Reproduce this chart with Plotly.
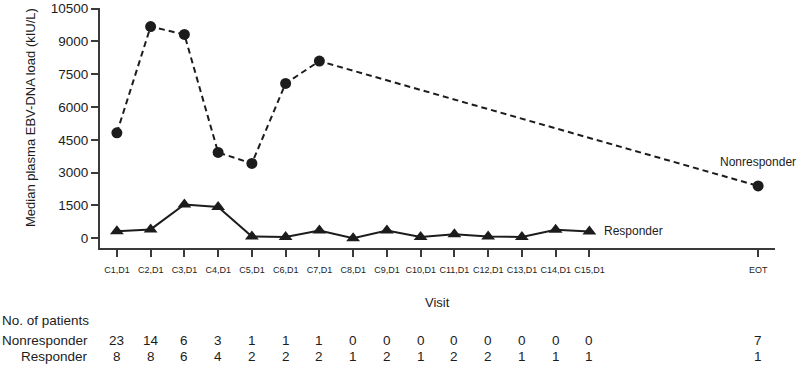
import plotly.graph_objects as go

# ---- data ----
visits = ["C1,D1", "C2,D1", "C3,D1", "C4,D1", "C5,D1", "C6,D1", "C7,D1", "C8,D1",
          "C9,D1", "C10,D1", "C11,D1", "C12,D1", "C13,D1", "C14,D1", "C15,D1", "EOT"]
visit_pos = [0, 1, 2, 3, 4, 5, 6, 7, 8, 9, 10, 11, 12, 13, 14, 19]

nonresponder = [4820, 9680, 9320, 3920, 3420, 7080, 8100,
                None, None, None, None, None, None, None, None, 2390]
responder = [320, 400, 1540, 1430, 80, 50, 350, 0, 350, 50, 180, 80, 50, 380, 310, None]

n_nonresponder = [23, 14, 6, 3, 1, 1, 1, 0, 0, 0, 0, 0, 0, 0, 0, 7]
n_responder = [8, 8, 6, 4, 2, 2, 2, 1, 2, 1, 2, 2, 1, 1, 1, 1]

y_ticks = [0, 1500, 3000, 4500, 6000, 7500, 9000, 10500]

FONT = "Liberation Sans, Arial, Helvetica, sans-serif"
INK = "#1c1c1c"
AX = "#3a3a3a"

fig = go.Figure()

fig.add_trace(go.Scatter(
    x=visit_pos, y=nonresponder, mode="lines+markers", connectgaps=True,
    line=dict(color=INK, width=2, dash="6px,4px"),
    marker=dict(symbol="circle", size=11, color=INK),
    name="Nonresponder", showlegend=False))

fig.add_trace(go.Scatter(
    x=visit_pos, y=responder, mode="lines+markers",
    line=dict(color=INK, width=2),
    marker=dict(symbol="triangle-up", size=12, color=INK),
    name="Responder", showlegend=False))

# plot area in pixels: x 100..775, y 8..248
L, R, T, B = 100, 25, 8, 118
W, H = 800 - L - R, 366 - T - B


def py(p):
    return (248 - p) / H


def px(p):
    return (p - L) / W


ann = []
# series labels
ann.append(dict(x=visit_pos[-1], y=nonresponder[-1], xref="x", yref="y",
                text="Nonresponder", showarrow=False, xanchor="center",
                yanchor="middle", yshift=24, font=dict(size=12, color=INK, family=FONT)))
ann.append(dict(x=visit_pos[14], y=responder[14], xref="x", yref="y",
                text="Responder", showarrow=False, xanchor="left",
                yanchor="middle", xshift=13, font=dict(size=12, color=INK, family=FONT)))
# y title
ann.append(dict(x=px(30), y=py(118), xref="paper", yref="paper",
                text="Median plasma EBV-DNA load (kIU/L)", textangle=-90,
                showarrow=False, xanchor="center", yanchor="middle",
                font=dict(size=13, color=INK, family=FONT)))
# x title
ann.append(dict(x=0.5, y=py(302), xref="paper", yref="paper", text="Visit",
                showarrow=False, xanchor="center", yanchor="middle",
                font=dict(size=13, color=INK, family=FONT)))
# table
ann.append(dict(x=px(0), y=py(320), xref="paper", yref="paper", text="No. of patients",
                showarrow=False, xanchor="left", yanchor="middle",
                font=dict(size=13.5, color=INK, family=FONT)))
ann.append(dict(x=px(90), y=py(340), xref="paper", yref="paper", text="Nonresponder",
                showarrow=False, xanchor="right", yanchor="middle",
                font=dict(size=13.5, color=INK, family=FONT)))
ann.append(dict(x=px(90), y=py(356), xref="paper", yref="paper", text="Responder",
                showarrow=False, xanchor="right", yanchor="middle",
                font=dict(size=13.5, color=INK, family=FONT)))
for xp, a, b in zip(visit_pos, n_nonresponder, n_responder):
    ann.append(dict(x=xp, y=py(340), xref="x", yref="paper", text=str(a),
                    showarrow=False, xanchor="center", yanchor="middle",
                    font=dict(size=13.5, color=INK, family=FONT)))
    ann.append(dict(x=xp, y=py(356), xref="x", yref="paper", text=str(b),
                    showarrow=False, xanchor="center", yanchor="middle",
                    font=dict(size=13.5, color=INK, family=FONT)))

fig.update_layout(
    width=800, height=366,
    margin=dict(l=L, r=R, t=T, b=B, autoexpand=False),
    paper_bgcolor="white", plot_bgcolor="white",
    annotations=ann,
    xaxis=dict(range=[-0.5, 19.5], tickvals=visit_pos, ticktext=visits,
               tickangle=0, automargin=False, ticklabelstandoff=5,
               showgrid=False, zeroline=False, showline=True, linecolor=AX,
               linewidth=2, ticks="outside", ticklen=7, tickwidth=1.5, tickcolor=AX,
               tickfont=dict(size=9, color=INK, family=FONT)),
    yaxis=dict(range=[-450, 10530], tickvals=y_ticks, tickformat="d", automargin=False,
               showgrid=False, zeroline=False, showline=True, linecolor=AX,
               linewidth=2, ticks="outside", ticklen=7, tickwidth=1.5, tickcolor=AX,
               tickfont=dict(size=13.5, color=INK, family=FONT)),
)

fig.write_html("out.html", config={"displayModeBar": False},
               post_script="document.body.style.margin='0';document.body.style.overflow='hidden';")
